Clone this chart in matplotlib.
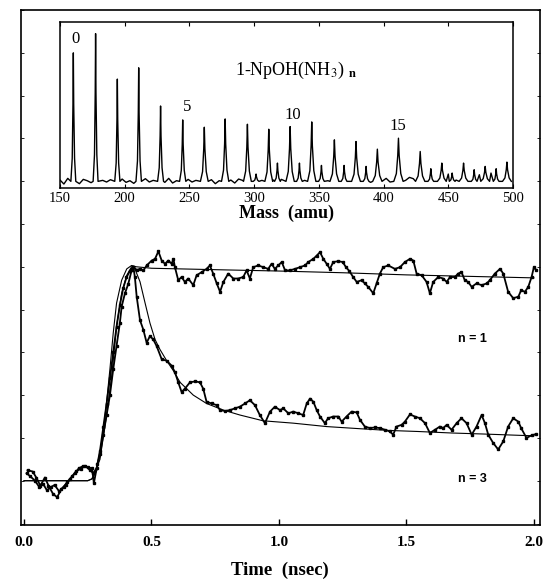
import numpy as np
import matplotlib
matplotlib.use("Agg")
import matplotlib.pyplot as plt

plt.rcParams['mathtext.fontset'] = 'stix'

# ---------------- Main panel data (time in ns, normalized signal) ----------------
t_n3 = [0.014, 0.034, 0.048, 0.064, 0.082, 0.096, 0.114, 0.130, 0.147, 0.164, 0.182, 0.199,
        0.215, 0.233, 0.251, 0.267, 0.274, 0.288, 0.298, 0.311, 0.324, 0.337, 0.350, 0.363,
        0.376, 0.383, 0.396, 0.409, 0.422, 0.429, 0.435, 0.442, 0.455, 0.468, 0.481, 0.494,
        0.507, 0.520, 0.540, 0.560, 0.579, 0.592, 0.605, 0.618, 0.631, 0.651, 0.671, 0.690,
        0.703, 0.716, 0.736, 0.756, 0.769, 0.788, 0.808, 0.827, 0.847, 0.867, 0.886, 0.906,
        0.925, 0.945, 0.965, 0.984, 1.004, 1.017, 1.037, 1.056, 1.076, 1.095, 1.109, 1.122,
        1.135, 1.148, 1.161, 1.180, 1.193, 1.213, 1.233, 1.246, 1.265, 1.285, 1.305, 1.318,
        1.337, 1.357, 1.376, 1.396, 1.416, 1.435, 1.448, 1.461, 1.481, 1.494, 1.514, 1.533,
        1.553, 1.573, 1.592, 1.612, 1.631, 1.644, 1.658, 1.677, 1.697, 1.716, 1.736, 1.756,
        1.775, 1.795, 1.808, 1.821, 1.840, 1.860, 1.880, 1.899, 1.919, 1.939, 1.950, 1.971,
        1.991, 2.008]
v_n3 = [0.049, 0.043, 0.015, -0.023, 0.015, -0.023, -0.062, -0.077, -0.038, -0.018, 0.008, 0.034,
        0.058, 0.069, 0.062, 0.058, -0.012, 0.077, 0.123, 0.215, 0.307, 0.400, 0.522, 0.630,
        0.737, 0.814, 0.876, 0.920, 0.983, 1.000, 0.950, 0.860, 0.750, 0.706, 0.645, 0.676,
        0.660, 0.630, 0.568, 0.560, 0.538, 0.507, 0.460, 0.415, 0.430, 0.460, 0.464, 0.460,
        0.430, 0.369, 0.361, 0.353, 0.330, 0.326, 0.330, 0.338, 0.346, 0.361, 0.376, 0.353,
        0.307, 0.269, 0.323, 0.346, 0.330, 0.338, 0.315, 0.323, 0.315, 0.307, 0.361, 0.384,
        0.369, 0.330, 0.300, 0.269, 0.292, 0.300, 0.300, 0.276, 0.300, 0.323, 0.319, 0.284,
        0.253, 0.246, 0.249, 0.246, 0.238, 0.230, 0.215, 0.253, 0.261, 0.276, 0.310, 0.300,
        0.292, 0.269, 0.223, 0.238, 0.253, 0.246, 0.261, 0.238, 0.269, 0.292, 0.269, 0.215,
        0.253, 0.307, 0.269, 0.215, 0.177, 0.146, 0.184, 0.253, 0.292, 0.276, 0.246, 0.200,
        0.212, 0.218]

t_n1 = [0.010, 0.025, 0.043, 0.060, 0.075, 0.090, 0.105, 0.120, 0.138, 0.155, 0.170, 0.188,
        0.205, 0.222, 0.240, 0.258, 0.272, 0.285, 0.298, 0.311, 0.324, 0.337, 0.350, 0.363,
        0.376, 0.389, 0.402, 0.415, 0.429, 0.442, 0.455, 0.468, 0.481, 0.501, 0.514, 0.527,
        0.540, 0.553, 0.566, 0.579, 0.586, 0.592, 0.605, 0.618, 0.631, 0.644, 0.664, 0.677,
        0.697, 0.716, 0.729, 0.742, 0.756, 0.769, 0.782, 0.801, 0.821, 0.840, 0.860, 0.873,
        0.886, 0.899, 0.919, 0.938, 0.958, 0.971, 0.984, 0.997, 1.011, 1.024, 1.043, 1.063,
        1.082, 1.102, 1.115, 1.135, 1.148, 1.161, 1.174, 1.187, 1.200, 1.213, 1.233, 1.250,
        1.263, 1.276, 1.291, 1.305, 1.324, 1.337, 1.350, 1.370, 1.383, 1.396, 1.409, 1.429,
        1.455, 1.475, 1.494, 1.514, 1.527, 1.540, 1.560, 1.579, 1.592, 1.605, 1.625, 1.644,
        1.658, 1.671, 1.690, 1.703, 1.716, 1.729, 1.742, 1.756, 1.775, 1.795, 1.815, 1.827,
        1.847, 1.867, 1.880, 1.899, 1.919, 1.939, 1.950, 1.965, 1.978, 1.991, 2.000, 2.010]
v_n1 = [0.035, 0.020, 0.000, -0.030, -0.015, -0.045, -0.030, -0.020, -0.050, -0.030, -0.005, 0.020,
        0.045, 0.055, 0.070, 0.050, 0.035, 0.060, 0.140, 0.250, 0.360, 0.480, 0.600, 0.720,
        0.820, 0.900, 0.950, 0.980, 1.000, 0.985, 0.990, 0.983, 1.006, 1.029, 1.037, 1.072,
        1.029, 1.014, 1.029, 1.014, 1.037, 0.998, 0.937, 0.952, 0.929, 0.945, 0.914, 0.960,
        0.975, 0.990, 1.006, 0.968, 0.922, 0.883, 0.929, 0.968, 0.945, 0.945, 0.952, 0.983,
        0.945, 0.998, 1.006, 0.998, 0.990, 1.014, 0.990, 1.006, 1.022, 0.983, 0.983, 0.990,
        0.998, 1.006, 1.022, 1.037, 1.052, 1.068, 1.037, 1.014, 0.990, 1.022, 1.026, 1.022,
        0.998, 0.980, 0.952, 0.929, 0.937, 0.922, 0.906, 0.876, 0.922, 0.968, 0.998, 1.006,
        0.990, 0.998, 1.022, 1.037, 1.029, 0.968, 0.960, 0.929, 0.876, 0.929, 0.952, 0.945,
        0.929, 0.952, 0.952, 0.968, 0.975, 0.937, 0.929, 0.906, 0.922, 0.914, 0.922, 0.937,
        0.968, 0.990, 0.968, 0.883, 0.853, 0.860, 0.890, 0.883, 0.906, 0.952, 0.998, 0.983]

# fitted curves
tf_n1 = [0.0, 0.25, 0.265, 0.285, 0.298, 0.311, 0.324, 0.337, 0.350, 0.363, 0.383, 0.403,
         0.422, 0.44, 0.5, 0.8, 1.0, 1.25, 1.5, 1.75, 2.0]
vf_n1 = [0.0, 0.0, 0.008, 0.046, 0.123, 0.230, 0.369, 0.522, 0.691, 0.830, 0.937, 0.990,
         1.006, 1.000, 0.993, 0.985, 0.980, 0.972, 0.962, 0.955, 0.948]
tf_n3 = [0.0, 0.25, 0.27, 0.298, 0.324, 0.344, 0.363, 0.383, 0.403, 0.422, 0.435, 0.455,
         0.475, 0.494, 0.514, 0.533, 0.56, 0.586, 0.612, 0.638, 0.664, 0.716, 0.782, 0.847,
         0.938, 1.056, 1.187, 1.318, 1.429, 1.546, 1.677, 1.808, 1.945, 2.0]
vf_n3 = [0.0, 0.0, 0.01, 0.10, 0.307, 0.490, 0.722, 0.876, 0.960, 1.000, 0.990, 0.930,
         0.830, 0.737, 0.660, 0.614, 0.560, 0.514, 0.460, 0.430, 0.400, 0.361, 0.330, 0.307,
         0.280, 0.269, 0.253, 0.243, 0.235, 0.230, 0.223, 0.218, 0.212, 0.210]

time_ticks = [0.0, 0.5, 1.0, 1.5, 2.0]
time_labels = ["0.0", "0.5", "1.0", "1.5", "2.0"]

# ---------------- Inset data (mass spectrum) ----------------
peak_mass = [160.3, 177.5, 194.3, 210.8, 227.7, 244.8, 261.5, 277.6, 294.8, 311.3, 327.8,
             344.5, 362.0, 378.7, 395.2, 411.5, 428.3, 445.0, 461.8, 478.5, 495.3]
peak_height = [387, 445, 308, 342, 227, 185, 163, 188, 172, 157, 165,
               179, 125, 120, 97, 130, 90, 55, 55, 45, 58]
peak_halfwidth = [1.9, 1.9, 2.0, 2.1, 2.3, 2.4, 3.0, 2.8, 3.0, 3.0, 3.2,
                  3.2, 3.4, 3.4, 3.6, 3.6, 3.6, 3.4, 3.4, 3.4, 3.4]
small_mass = [301.5, 318.0, 335.0, 352.0, 369.5, 386.5, 436.5, 453.0, 470.0, 487.0]
small_height = [22, 55, 55, 48, 48, 45, 38, 25, 35, 38]

base_mass = list(range(150, 501, 3))
base_val = [4, -8, 9, -5, 3, -7, 6, 2, -4, 8, -6, 3, -2, 5, -9, 4, 7, -3, 2, -6,
            5, -4, 8, -2, 3, -7, 6, -3, 9, -5, 2, 4, -8, 6, -2, 3, -6, 10, -4, 5,
            -7, 2, 6, -3, 4, -5, 7, 3, -4, 2, 5, -6, 3, 8, -2, 4, -5, 6, 2, -3,
            7, -4, 5, 3, -2, 6, 4, -3, 8, 2, 5, -4, 6, 9, 3, -2, 7, 4, 10, 5,
            -3, 8, 12, 4, 9, -2, 14, 6, 18, 3, 12, 8, -4, 15, 5, 20, 9, 2, 16, 6,
            22, 10, 4, 18, 8, 24, 12, 3, 20, 10, 6, 25, 12, 4, 20, 8, 14]
cluster_labels = ["0", "5", "10", "15"]
cluster_label_mass = [162, 248, 330, 411]
cluster_label_int = [430, 225, 200, 168]

# ---------------- Build spectrum trace ----------------
pts = []
shape_x = [-1.0, -0.45, -0.15, 0.0, 0.15, 0.5, 1.0]
shape_y = [0.0, 0.18, 0.6, 1.0, 0.6, 0.18, 0.0]
windows = []
for m, h, w in zip(peak_mass, peak_height, peak_halfwidth):
    windows.append((m - w, m + w))
    for sx, sy in zip(shape_x, shape_y):
        pts.append((m + sx * w, sy * h))
for m, h in zip(small_mass, small_height):
    w = 2.2
    windows.append((m - w, m + w))
    for sx, sy in zip(shape_x, shape_y):
        pts.append((m + sx * w, sy * h))
for m, v in zip(base_mass, base_val):
    if not any(a - 0.6 <= m <= b + 0.6 for a, b in windows):
        pts.append((m, v))
pts.sort()
spec_m = [p[0] for p in pts]
spec_i = [p[1] for p in pts]

# ---------------- Figure ----------------
W, H = 552, 580
fig = plt.figure(figsize=(W / 100, H / 100), dpi=100)
fig.patch.set_facecolor("white")

ax = fig.add_axes([20.7 / W, 1 - 525 / H, (540 - 20.7) / W, (525 - 10) / H])
ax.plot(tf_n1, vf_n1, color="black", lw=0.8)
ax.plot(tf_n3, vf_n3, color="black", lw=0.8)
ax.plot(t_n1, v_n1, color="black", lw=1.3, marker="s", ms=2.0)
ax.plot(t_n3, v_n3, color="black", lw=1.3, marker="s", ms=2.0)
ax.set_xlim(-0.013, 2.024)
ax.set_ylim(-0.207, 2.166)
ax.set_xticks(time_ticks)
ax.set_xticklabels(time_labels, family="Liberation Serif", fontweight="bold", fontsize=11)
ax.set_yticks(np.arange(-0.2, 2.2, 0.2))
ax.set_yticklabels([])
ax.tick_params(axis="x", direction="in", length=4, width=1.0, pad=8)
ax.tick_params(axis="y", direction="in", length=2, width=0.6, left=True, right=True)
for s in ax.spines.values():
    s.set_linewidth(1.2)
ax.set_xlabel("Time  (nsec)", family="Liberation Serif", fontweight="bold", fontsize=13.5,
              labelpad=9)
ax.text(1.76, 0.66, "n = 1", family="Liberation Sans", fontweight="bold", fontsize=9,
        ha="center", va="center")
ax.text(1.76, 0.008, "n = 3", family="Liberation Sans", fontweight="bold", fontsize=9,
        ha="center", va="center")

# Inset
axi = fig.add_axes([60 / W, 1 - 188 / H, (513 - 60) / W, (188 - 22) / H])
axi.plot(spec_m, spec_i, color="black", lw=1.0)
axi.set_xlim(150, 500)
axi.set_ylim(-20, 480)
axi.set_xticks(range(150, 501, 50))
axi.set_xticklabels([str(v) for v in range(150, 501, 50)], family="Liberation Serif",
                    fontsize=10.5)
axi.set_yticks([])
axi.tick_params(axis="x", direction="in", length=3, width=0.8, top=True, pad=3)
for s in axi.spines.values():
    s.set_linewidth(1.1)
axi.set_xlabel("Mass  (amu)", family="Liberation Serif", fontweight="bold", fontsize=13,
               labelpad=0)
for lab, m, i in zip(cluster_labels, cluster_label_mass, cluster_label_int):
    axi.text(m, i, lab, family="Liberation Serif", fontsize=12, ha="center", va="center")
axi.text(285, 335, r"1-NpOH(NH$_3$) $_{\mathbf{n}}$", family="Liberation Serif", fontsize=13,
         ha="left", va="center")

fig.savefig("out.png", dpi=100, facecolor="white")
